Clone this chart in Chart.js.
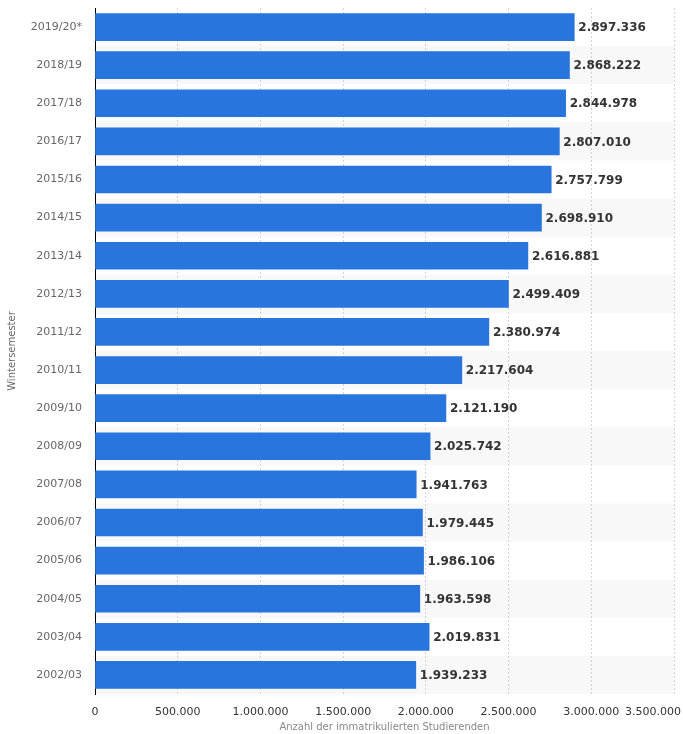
<!DOCTYPE html>
<html>
<head>
<meta charset="utf-8">
<script src="https://cdn.jsdelivr.net/npm/chart.js@4"></script>
<style>
  body { margin: 0; background: #fff; }
</style>
</head>
<body>
<canvas id="chart_dest" width="683" height="734"></canvas>
<script>
// Wintersemester und Anzahl der Studierenden
var semester = [
  "2019/20*", "2018/19", "2017/18", "2016/17", "2015/16", "2014/15",
  "2013/14", "2012/13", "2011/12", "2010/11", "2009/10", "2008/09",
  "2007/08", "2006/07", "2005/06", "2004/05", "2003/04", "2002/03"
];
var studierende = [
  2897336, 2868222, 2844978, 2807010, 2757799, 2698910,
  2616881, 2499409, 2380974, 2217604, 2121190, 2025742,
  1941763, 1979445, 1986106, 1963598, 2019831, 1939233
];
var xTicks = [0, 500000, 1000000, 1500000, 2000000, 2500000, 3000000, 3500000];

var FONT = "'DejaVu Sans', Verdana, sans-serif";

function fmt(n) {
  return String(Math.round(n)).replace(/\B(?=(\d{3})+(?!\d))/g, ".");
}

// grey stripes behind every second row
var stripes = {
  id: "stripes",
  beforeDraw: function (chart) {
    var ctx = chart.ctx, area = chart.chartArea, y = chart.scales.y;
    var h = (area.bottom - area.top) / semester.length;
    ctx.save();
    ctx.fillStyle = "#f8f8f8";
    for (var i = 1; i < semester.length; i += 2) {
      var c = y.getPixelForValue(i);
      ctx.fillRect(area.left, c - h / 2, area.right - area.left, h);
    }
    ctx.restore();
  }
};

// value labels at the end of each bar
var valueLabels = {
  id: "valueLabels",
  afterDatasetsDraw: function (chart) {
    var ctx = chart.ctx;
    var meta = chart.getDatasetMeta(0);
    ctx.save();
    ctx.font = "bold 12px " + FONT;
    ctx.fillStyle = "#333";
    ctx.textAlign = "left";
    ctx.textBaseline = "middle";
    meta.data.forEach(function (bar, i) {
      ctx.fillText(fmt(studierende[i]), bar.x + 4, bar.y + 1);
    });
    ctx.restore();
  }
};

// x tick labels, last one kept inside the canvas
var xLabels = {
  id: "xLabels",
  afterDraw: function (chart) {
    var ctx = chart.ctx, x = chart.scales.x;
    ctx.save();
    ctx.font = "11px " + FONT;
    ctx.fillStyle = "#333";
    ctx.textBaseline = "middle";
    xTicks.forEach(function (v) {
      var t = fmt(v);
      var w = ctx.measureText(t).width;
      var px = x.getPixelForValue(v) - w / 2;
      if (px + w > chart.width - 2) px = chart.width - 2 - w;
      ctx.fillText(t, px, 712);
    });
    ctx.font = "10px " + FONT;
    ctx.fillStyle = "#888";
    ctx.textAlign = "center";
    ctx.fillText("Anzahl der immatrikulierten Studierenden", (x.left + x.right) / 2, 727);
    ctx.restore();
  }
};

var data = {
  labels: semester,
  datasets: [{
    data: studierende,
    backgroundColor: "#2876dd",
    barThickness: 27
  }]
};

var options = {
  indexAxis: "y",
  responsive: false,
  animation: false,
  layout: { padding: { top: 8, right: 9, left: 0, bottom: 0 } },
  plugins: {
    legend: { display: false },
    tooltip: { enabled: false }
  },
  scales: {
    x: {
      min: 0,
      max: 3500000,
      afterBuildTicks: function (s) {
        s.ticks = xTicks.map(function (v) { return { value: v }; });
      },
      afterFit: function (s) {
        s.height = 40;
        s.paddingLeft = 0;
        s.paddingRight = 0;
      },
      ticks: { display: false },
      grid: {
        drawTicks: false,
        color: function (c) { return c.tick && c.tick.value === 0 ? "rgba(0,0,0,0)" : "#d2d2d2"; },
        lineWidth: 1
      },
      border: { display: false, dash: [2, 2] }
    },
    y: {
      afterFit: function (s) {
        s.width = 95;
        s.paddingTop = 0;
        s.paddingBottom = 0;
      },
      grid: { display: false, drawTicks: false },
      border: { display: true, color: "#000", width: 1 },
      ticks: {
        color: "#666",
        padding: 13,
        font: { family: FONT, size: 11 }
      },
      title: {
        display: true,
        text: "Wintersemester",
        color: "#666",
        font: { family: FONT, size: 10 },
        padding: { top: 6, bottom: 0 }
      }
    }
  }
};

var ctx = document.getElementById("chart_dest");
var chart = new Chart(ctx, {
  type: "bar",
  data: data,
  options: options,
  plugins: [stripes, valueLabels, xLabels]
});
</script>
</body>
</html>
